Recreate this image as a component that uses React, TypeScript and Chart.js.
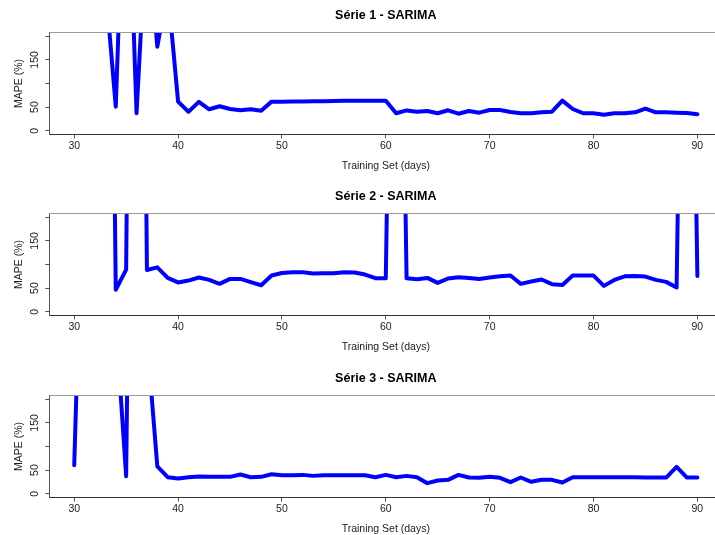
import React, { useEffect, useRef } from 'react';
import { Chart, registerables } from 'chart.js';

Chart.register(...registerables);

const days = [
  30, 31, 32, 33, 34, 35, 36, 37, 38, 39,
  40, 41, 42, 43, 44, 45, 46, 47, 48, 49,
  50, 51, 52, 53, 54, 55, 56, 57, 58, 59,
  60, 61, 62, 63, 64, 65, 66, 67, 68, 69,
  70, 71, 72, 73, 74, 75, 76, 77, 78, 79,
  80, 81, 82, 83, 84, 85, 86, 87, 88, 89,
  90,
];

const serie1: (number | null)[] = [
  null, null, null, 310, 51, 680, 37, 450, 178, 300,
  61.6, 40.3, 61, 45.4, 51.8, 46, 43.3, 45.4, 42.5, 61.6,
  61.6, 61.8, 62, 62.3, 62.6, 63, 63.5, 63.5, 63.5, 63.5,
  63.5, 37, 43, 40.3, 41.8, 37, 43.3, 36, 41.8, 38.2,
  44, 44, 39.7, 37, 37, 39, 40.3, 63.7, 46, 37,
  37, 34, 37, 37, 39, 46.7, 39, 39, 38.2, 37.6,
  34.8,
];

const serie2: (number | null)[] = [
  null, null, null, 2000, 46.6, 89, 2500, 88.4, 94, 71.6,
  62, 66, 72.4, 67.4, 59, 69.5, 69.5, 62.5, 56, 76.6,
  82, 83.5, 83.5, 80.8, 81.5, 81.5, 83.5, 83, 78.7, 71,
  71, 1500, 71, 68.8, 71.6, 61, 70.3, 73, 71.6, 69.5,
  72.4, 75, 76.6, 59, 64, 68.2, 58.3, 56.8, 76.6, 76.6,
  76.6, 54.7, 67.4, 75, 75.8, 74.5, 67.4, 63.2, 51.4, 1500,
  75.8,
];

const serie3: (number | null)[] = [
  60.2, 800, null, null, 365, 37, 2000, 330, 58, 35,
  32.2, 35, 36.4, 35.7, 35.7, 35.7, 40.6, 35, 35.7, 41.3,
  39.2, 39.2, 39.9, 37.8, 39.2, 39.2, 39.2, 39.2, 39.2, 35,
  39.9, 35, 37.8, 35, 22.4, 28, 29.4, 39.9, 34.3, 33.6,
  35.7, 33.6, 24.5, 34.3, 25.2, 29.4, 29.4, 23.8, 35, 35,
  35, 35, 35, 35, 35, 34.3, 34.3, 34.3, 56.8, 34.3,
  34.3,
];

const panelTitles = ['Série 1 - SARIMA', 'Série 2 - SARIMA', 'Série 3 - SARIMA'];
const panelSeries = [serie1, serie2, serie3];
const xTicks = [30, 40, 50, 60, 70, 80, 90];
const yTicks = [0, 50, 100, 150, 200];
const yTickLabels = ['0', '50', '', '150', ''];
const xAxisTitle = 'Training Set (days)';
const yAxisTitle = 'MAPE (%)';

const FONT = "'Liberation Sans', Arial, Helvetica, sans-serif";
const CANVAS_W = 740;
const CANVAS_H = 180;
const panelTops = [0, 181, 363];

const topBorder = {
  id: 'topBorder',
  afterDraw(chart: any) {
    const { ctx, chartArea } = chart;
    ctx.save();
    ctx.strokeStyle = '#9a9a9a';
    ctx.lineWidth = 1;
    ctx.beginPath();
    ctx.moveTo(chartArea.left, chartArea.top);
    ctx.lineTo(chartArea.right, chartArea.top);
    ctx.stroke();
    ctx.restore();
  },
};

function Panel({ index }: { index: number }) {
  const ref = useRef<HTMLCanvasElement | null>(null);

  useEffect(() => {
    if (!ref.current) return;
    const series = panelSeries[index];
    const chart = new Chart(ref.current, {
      type: 'line',
      data: {
        datasets: [
          {
            data: days.map((d, i) => ({ x: d, y: series[i] })) as any,
            borderColor: '#0000ff',
            borderWidth: 4,
            pointRadius: 0,
            tension: 0,
            spanGaps: false,
            borderJoinStyle: 'round',
            borderCapStyle: 'round',
            clip: 0,
          } as any,
        ],
      },
      options: {
        responsive: false,
        animation: false,
        devicePixelRatio: 1,
        layout: { padding: { left: 0, right: 17.7, top: 0, bottom: 0 } },
        plugins: {
          legend: { display: false },
          tooltip: { enabled: false },
          title: {
            display: true,
            text: panelTitles[index],
            fullSize: false,
            color: '#000',
            font: { family: FONT, size: 12.5, weight: 'bold' },
            padding: { top: 8, bottom: 9.5 },
          },
        },
        scales: {
          x: {
            type: 'linear',
            min: 27.6,
            max: 92.4,
            afterBuildTicks: (scale: any) => {
              scale.ticks = xTicks.map((v) => ({ value: v }));
            },
            afterFit: (scale: any) => {
              scale.height = 45.5;
            },
            ticks: {
              autoSkip: false,
              maxRotation: 0,
              minRotation: 0,
              padding: 1.5,
              color: '#222',
              font: { family: FONT, size: 10.5 },
              callback: (v: any) => String(v),
            },
            grid: {
              display: true,
              drawOnChartArea: false,
              drawTicks: true,
              tickLength: 4,
              color: '#555',
            },
            border: { display: true, color: '#333', width: 1 },
            title: {
              display: true,
              text: xAxisTitle,
              color: '#222',
              font: { family: FONT, size: 10.5 },
              padding: { top: 0, bottom: 7.2 },
            },
          },
          y: {
            type: 'linear',
            min: -8,
            max: 208,
            afterBuildTicks: (scale: any) => {
              scale.ticks = yTicks.map((v) => ({ value: v }));
            },
            afterFit: (scale: any) => {
              scale.width = 49.3;
            },
            ticks: {
              autoSkip: false,
              minRotation: 90,
              maxRotation: 90,
              crossAlign: 'center',
              padding: 1,
              color: '#222',
              font: { family: FONT, size: 10.5 },
              callback: (v: any) => {
                const k = yTicks.indexOf(Number(v));
                return k >= 0 ? yTickLabels[k] : '';
              },
            },
            grid: {
              display: true,
              drawOnChartArea: false,
              drawTicks: true,
              tickLength: 4,
              color: '#555',
            },
            border: { display: true, color: '#555', width: 1 },
            title: {
              display: true,
              text: yAxisTitle,
              color: '#222',
              font: { family: FONT, size: 10.5 },
              padding: { top: 13.2, bottom: 0 },
            },
          },
        },
      } as any,
      plugins: [topBorder],
    });
    return () => chart.destroy();
  }, [index]);

  return (
    <canvas
      ref={ref}
      width={CANVAS_W}
      height={CANVAS_H}
      style={{
        position: 'absolute',
        left: 0,
        top: panelTops[index],
        width: CANVAS_W,
        height: CANVAS_H,
        display: 'block',
      }}
    />
  );
}

export default function App() {
  return (
    <div
      style={{
        position: 'absolute',
        left: 0,
        top: 0,
        width: 715,
        height: 535,
        overflow: 'hidden',
        background: '#fff',
      }}
    >
      {[0, 1, 2].map((i) => (
        <Panel key={i} index={i} />
      ))}
    </div>
  );
}
